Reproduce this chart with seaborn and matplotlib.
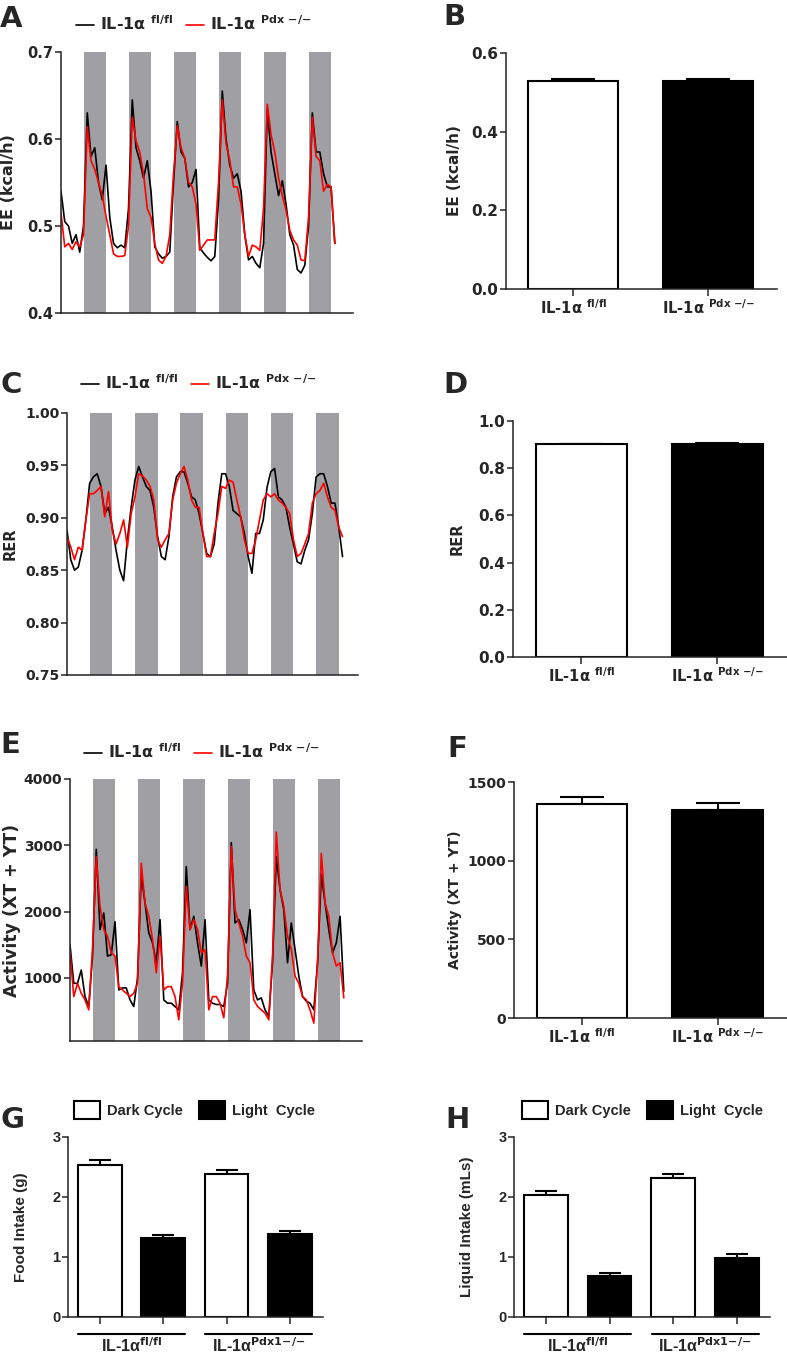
import numpy as np
import pandas as pd
import seaborn as sns
import matplotlib.pyplot as plt
from matplotlib.ticker import FormatStrFormatter
from matplotlib.transforms import blended_transform_factory

# ---- data ----
hours = np.arange(0, 148, 2)               # hours since start of recording
dark_start = [12, 36, 60, 84, 108, 132]    # dark phases, 12 h each

lab_fl = r'IL-1α $^{\mathbf{fl/fl}}$'
lab_pdx = r'IL-1α $^{\mathbf{Pdx\ {-}/{-}}}$'

# A - energy expenditure (kcal/h)
ee_fl = [0.54, 0.505, 0.50, 0.48, 0.49, 0.47,
         0.50, 0.63, 0.58, 0.59, 0.55, 0.53,
         0.57, 0.51, 0.48, 0.475, 0.478, 0.475,
         0.52, 0.645, 0.59, 0.575, 0.555, 0.575,
         0.54, 0.476, 0.468, 0.463, 0.465, 0.47,
         0.55, 0.62, 0.585, 0.578, 0.545, 0.55,
         0.565, 0.475, 0.469, 0.464, 0.46, 0.465,
         0.53, 0.655, 0.60, 0.57, 0.555, 0.56,
         0.54, 0.49, 0.461, 0.465, 0.457, 0.452,
         0.48, 0.635, 0.585, 0.56, 0.535, 0.552,
         0.525, 0.49, 0.478, 0.45, 0.446, 0.455,
         0.50, 0.63, 0.585, 0.585, 0.56, 0.545,
         0.545, 0.48]
ee_pdx = [0.515, 0.476, 0.48, 0.473, 0.482, 0.476,
          0.49, 0.614, 0.575, 0.565, 0.55, 0.535,
          0.511, 0.49, 0.468, 0.465, 0.465, 0.466,
          0.50, 0.625, 0.598, 0.585, 0.56, 0.52,
          0.51, 0.48, 0.461, 0.457, 0.465, 0.49,
          0.56, 0.615, 0.59, 0.578, 0.55, 0.545,
          0.525, 0.472, 0.478, 0.484, 0.484, 0.484,
          0.55, 0.645, 0.595, 0.575, 0.545, 0.545,
          0.525, 0.49, 0.465, 0.478, 0.476, 0.472,
          0.52, 0.64, 0.605, 0.585, 0.555, 0.535,
          0.518, 0.495, 0.484, 0.478, 0.461, 0.46,
          0.51, 0.625, 0.58, 0.575, 0.54, 0.548,
          0.545, 0.48]

# C - respiratory exchange ratio
rer_fl = [0.888, 0.86, 0.85, 0.853, 0.869, 0.898,
          0.933, 0.939, 0.942, 0.93, 0.904, 0.91,
          0.891, 0.869, 0.85, 0.84, 0.879, 0.91,
          0.936, 0.949, 0.939, 0.93, 0.926, 0.91,
          0.882, 0.863, 0.86, 0.882, 0.92, 0.939,
          0.944, 0.944, 0.933, 0.92, 0.917, 0.904,
          0.885, 0.866, 0.863, 0.875, 0.914, 0.942,
          0.942, 0.93, 0.907, 0.904, 0.901, 0.885,
          0.863, 0.847, 0.885, 0.885, 0.898, 0.929,
          0.944, 0.947, 0.92, 0.917, 0.91, 0.891,
          0.875, 0.858, 0.856, 0.869, 0.879, 0.904,
          0.939, 0.942, 0.942, 0.93, 0.914, 0.914,
          0.891, 0.863]
rer_pdx = [0.882, 0.872, 0.86, 0.872, 0.869, 0.898,
           0.923, 0.923, 0.926, 0.93, 0.901, 0.925,
           0.888, 0.875, 0.885, 0.898, 0.872, 0.904,
           0.92, 0.942, 0.94, 0.936, 0.93, 0.917,
           0.879, 0.872, 0.879, 0.885, 0.917, 0.933,
           0.942, 0.949, 0.936, 0.917, 0.91, 0.91,
           0.885, 0.863, 0.863, 0.885, 0.904, 0.93,
           0.928, 0.936, 0.934, 0.917, 0.901, 0.879,
           0.866, 0.866, 0.879, 0.898, 0.917, 0.923,
           0.92, 0.923, 0.917, 0.914, 0.91, 0.904,
           0.879, 0.863, 0.866, 0.875, 0.885, 0.914,
           0.923, 0.926, 0.933, 0.92, 0.91, 0.907,
           0.891, 0.882]

# E - activity (XT + YT)
act_fl = [1500, 920, 920, 1120, 720, 570,
          1330, 2940, 1730, 1980, 1330, 1350,
          1850, 820, 850, 850, 670, 570,
          1000, 2560, 2130, 1680, 1530, 1230,
          1880, 670, 620, 620, 570, 520,
          1080, 2680, 1730, 1930, 1530, 1180,
          1880, 670, 620, 600, 600, 570,
          920, 3040, 1830, 1880, 1730, 1530,
          2030, 820, 670, 700, 520, 420,
          1230, 2830, 2330, 2030, 1230, 1830,
          1430, 1030, 720, 650, 620, 520,
          1230, 2560, 2130, 1730, 1380, 1530,
          1930, 800]
act_pdx = [1400, 720, 920, 770, 670, 520,
           1430, 2830, 2080, 1730, 1630, 1380,
           1330, 870, 820, 770, 720, 770,
           920, 2730, 2130, 1930, 1580, 1080,
           1630, 820, 870, 870, 720, 370,
           920, 2380, 1730, 1880, 1730, 1380,
           1430, 520, 720, 720, 620, 400,
           1030, 2980, 2030, 1830, 1630, 1330,
           1230, 670, 570, 520, 470, 370,
           1330, 3200, 2330, 2080, 1630, 1430,
           1030, 920, 720, 670, 520, 320,
           1230, 2880, 2130, 1930, 1380, 1180,
           1230, 700]

# B, D, F - means and SEM per genotype
bar_groups = [lab_fl, lab_pdx]
ee_mean, ee_sem = [0.530, 0.529], [0.004, 0.004]
rer_mean, rer_sem = [0.901, 0.904], [0.003, 0.003]
act_mean, act_sem = [1362, 1324], [43, 43]

# G, H - intake per cycle
geno_groups = [r'IL-1α$^{\mathbf{fl/fl}}$', r'IL-1α$^{\mathbf{Pdx1{-}/{-}}}$']
cycles = ['Dark Cycle', 'Light  Cycle']
food_dark, food_dark_sem = [2.54, 2.38], [0.07, 0.065]
food_light, food_light_sem = [1.32, 1.39], [0.05, 0.045]
liq_dark, liq_dark_sem = [2.04, 2.32], [0.06, 0.07]
liq_light, liq_light_sem = [0.69, 0.99], [0.04, 0.065]

# ---- style ----
sns.set_style('ticks')
plt.rcParams['font.family'] = ['DejaVu Sans']
plt.rcParams['font.weight'] = 'bold'
plt.rcParams['axes.labelweight'] = 'bold'
plt.rcParams['mathtext.fontset'] = 'dejavusans'
plt.rcParams['axes.linewidth'] = 1.1
plt.rcParams['axes.edgecolor'] = '#222222'

GRAY = '#a0a0a4'
W, H = 787, 1362
fig = plt.figure(figsize=(W / 100, H / 100), dpi=100)


def px_axes(l, t, r, b):
    return fig.add_axes([l / W, 1 - b / H, (r - l) / W, (b - t) / H])


def fxy(x, y):
    return (x / W, 1 - y / H)


def line_panel(ax, fl, pdx, ylim, yticks, fmt, ylabel, xmax, lpad, leg_xy,
               lab_size, tick_size):
    for s in dark_start:
        ax.axvspan(s, s + 12, color=GRAY, lw=0, zorder=0)
    df = pd.DataFrame({'hour': np.concatenate([hours, hours]),
                       'value': list(fl) + list(pdx),
                       'mouse': [lab_fl] * len(fl) + [lab_pdx] * len(pdx)})
    sns.lineplot(data=df, x='hour', y='value', hue='mouse',
                 palette=['black', 'red'], linewidth=1.2, errorbar=None, ax=ax)
    ax.set_xlim(0, xmax)
    ax.set_ylim(*ylim)
    ax.set_yticks(yticks)
    ax.yaxis.set_major_formatter(FormatStrFormatter(fmt))
    ax.tick_params(axis='y', length=4, width=1.1, pad=1.5, labelsize=tick_size)
    ax.tick_params(axis='x', bottom=False, labelbottom=False)
    ax.set_xlabel('')
    ax.set_ylabel(ylabel, fontsize=lab_size, fontweight='bold', labelpad=lpad)
    sns.despine(ax=ax)
    sns.move_legend(ax, 'center left', bbox_to_anchor=fxy(*leg_xy),
                    bbox_transform=fig.transFigure, ncol=2, frameon=False,
                    title=None, handlelength=1.15, handletextpad=0.35,
                    columnspacing=0.8, borderpad=0, borderaxespad=0,
                    prop={'weight': 'bold', 'size': 11.5})


def bar_panel(ax, means, sems, ylim, yticks, fmt, ylabel, lpad, lab_size,
              tick_size):
    df = pd.DataFrame({'group': bar_groups, 'value': means})
    sns.barplot(data=df, x='group', y='value', hue='group',
                palette=['white', 'black'], edgecolor='black', linewidth=1.5,
                width=0.667, saturation=1, legend=False, ax=ax)
    ax.errorbar(range(len(means)), means, yerr=[np.zeros(len(means)), sems],
                fmt='none', ecolor='black', elinewidth=1.5, capsize=16,
                capthick=1.5, zorder=0.5)
    ax.set_xlim(-0.5, 1.51)
    ax.set_ylim(*ylim)
    ax.set_yticks(yticks)
    ax.yaxis.set_major_formatter(FormatStrFormatter(fmt))
    ax.tick_params(axis='y', length=4, width=1.1, pad=1.5, labelsize=tick_size)
    ax.tick_params(axis='x', length=5, width=1.1, pad=2, labelsize=10.5)
    for t in ax.get_xticklabels():
        t.set_fontweight('bold')
    ax.set_xlabel('')
    ax.set_ylabel(ylabel, fontsize=lab_size, fontweight='bold', labelpad=lpad)
    sns.despine(ax=ax)


def intake_panel(ax, dark, dark_sem, light, light_sem, ylabel, leg_xy):
    df = pd.DataFrame({'genotype': geno_groups * 2,
                       'cycle': [cycles[0]] * 2 + [cycles[1]] * 2,
                       'value': dark + light})
    sns.barplot(data=df, x='genotype', y='value', hue='cycle',
                palette=['white', 'black'], edgecolor='black', linewidth=1.5,
                width=1.0, gap=0.31, saturation=1, ax=ax)
    xs = [p.get_x() + p.get_width() / 2 for p in ax.patches][:4]
    ax.errorbar(xs, dark + light, yerr=[np.zeros(4), dark_sem + light_sem],
                fmt='none', ecolor='black', elinewidth=1.5, capsize=8,
                capthick=1.5, zorder=0.5)
    ax.set_xlim(-0.5, 1.51)
    ax.set_ylim(0, 3)
    ax.set_yticks([0, 1, 2, 3])
    ax.set_xticks(sorted(xs), labels=[''] * 4)
    ax.tick_params(axis='y', length=4, width=1.1, pad=1.5, labelsize=10.5)
    ax.tick_params(axis='x', length=5, width=1.1)
    for t in ax.get_yticklabels():
        t.set_family('Liberation Sans')
    ax.set_xlabel('')
    ax.set_ylabel(ylabel, fontsize=11, fontweight='bold', labelpad=17,
                  family='Liberation Sans')
    sns.despine(ax=ax)
    tr = blended_transform_factory(ax.transData, ax.transAxes)
    for i, lab in enumerate(geno_groups):
        ax.plot([i - 0.42, i + 0.42], [-0.094, -0.094], transform=tr,
                color='black', lw=1.5, clip_on=False)
        ax.text(i, -0.11, lab, transform=tr, ha='center', va='top',
                fontsize=11.5, fontweight='bold', family='Liberation Sans')
    sns.move_legend(ax, 'center left', bbox_to_anchor=fxy(*leg_xy),
                    bbox_transform=fig.transFigure, ncol=2, frameon=False,
                    title=None, handlelength=1.78, handleheight=1.58,
                    handletextpad=0.48, columnspacing=1.1, borderpad=0,
                    borderaxespad=0,
                    prop={'weight': 'bold', 'size': 10.5,
                          'family': 'Liberation Sans'})


axA = px_axes(61, 52, 353, 313)
line_panel(axA, ee_fl, ee_pdx, (0.4, 0.7), [0.4, 0.5, 0.6, 0.7], '%.1f',
           'EE (kcal/h)', 155.7, 8, (76, 24), 11.5, 10.5)

axB = px_axes(506, 53, 777, 289)
bar_panel(axB, ee_mean, ee_sem, (0, 0.6), [0.0, 0.2, 0.4, 0.6], '%.1f',
          'EE (kcal/h)', 7, 11, 11)

axC = px_axes(67, 413, 358, 675)
line_panel(axC, rer_fl, rer_pdx, (0.75, 1.0),
           [0.75, 0.80, 0.85, 0.90, 0.95, 1.00], '%.2f',
           'RER', 154.2, 5, (81, 383), 10.5, 10)

axD = px_axes(513, 421, 787, 657)
bar_panel(axD, rer_mean, rer_sem, (0, 1.0), [0.0, 0.2, 0.4, 0.6, 0.8, 1.0],
          '%.1f', 'RER', 10, 10.5, 11)

axE = px_axes(70, 779, 362, 1041)
line_panel(axE, act_fl, act_pdx, (50, 4000), [1000, 2000, 3000, 4000], '%d',
           'Activity (XT + YT)', 155.7, 2, (84, 752), 12.5, 10)

axF = px_axes(514, 782, 787, 1018)
bar_panel(axF, act_mean, act_sem, (0, 1500), [0, 500, 1000, 1500], '%d',
          'Activity (XT + YT)', 4, 10, 10)

axG = px_axes(68, 1137, 323, 1317)
intake_panel(axG, food_dark, food_dark_sem, food_light, food_light_sem,
             'Food Intake (g)', (74, 1110))

axH = px_axes(514, 1137, 770, 1317)
intake_panel(axH, liq_dark, liq_dark_sem, liq_light, liq_light_sem,
             'Liquid Intake (mLs)', (522, 1110))

# panel letters
for letter, x, y in [('A', 0, 27), ('B', 443, 25), ('C', 0, 393),
                     ('D', 443, 393), ('E', 0, 753), ('F', 447, 757),
                     ('G', 0, 1128), ('H', 445, 1128)]:
    fx, fy = fxy(x, y)
    fig.text(fx, fy, letter, ha='left', va='baseline', fontsize=21,
             fontweight='bold')

fig.savefig('out.png', dpi=100)
